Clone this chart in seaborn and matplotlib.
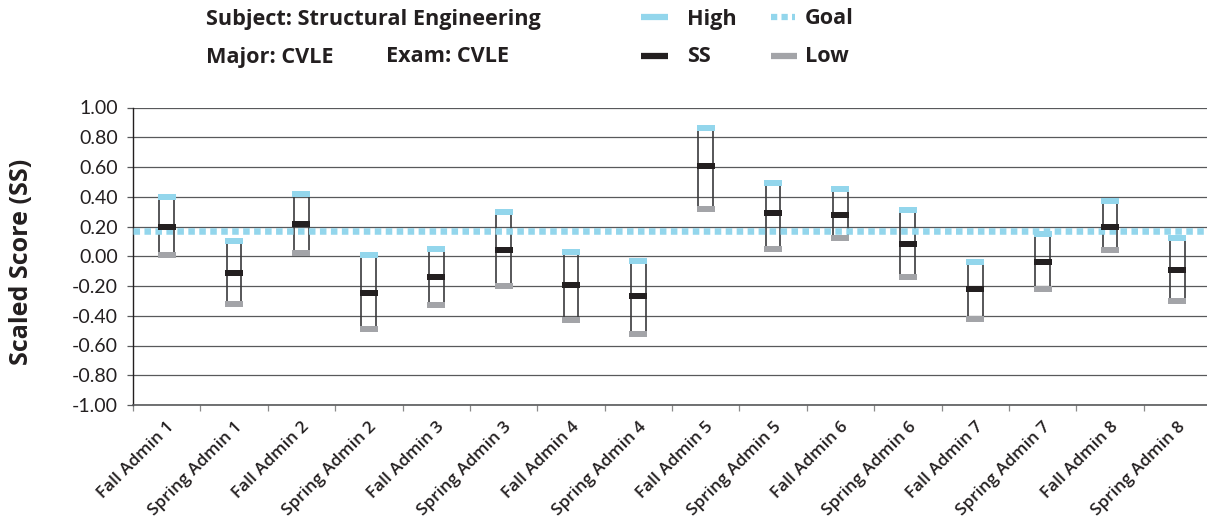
import matplotlib
matplotlib.use("Agg")
import matplotlib.pyplot as plt
from matplotlib.path import Path
from matplotlib.lines import Line2D
import pandas as pd
import seaborn as sns

# Administration windows along the x axis
admins = [
    "Fall Admin 1", "Spring Admin 1", "Fall Admin 2", "Spring Admin 2",
    "Fall Admin 3", "Spring Admin 3", "Fall Admin 4", "Spring Admin 4",
    "Fall Admin 5", "Spring Admin 5", "Fall Admin 6", "Spring Admin 6",
    "Fall Admin 7", "Spring Admin 7", "Fall Admin 8", "Spring Admin 8",
]
# Scaled scores per administration
high = [0.40, 0.10, 0.42, 0.01, 0.05, 0.30, 0.03, -0.03,
        0.86, 0.49, 0.45, 0.31, -0.04, 0.15, 0.37, 0.12]
ss = [0.20, -0.11, 0.22, -0.25, -0.14, 0.04, -0.19, -0.27,
      0.61, 0.29, 0.28, 0.08, -0.22, -0.04, 0.20, -0.09]
low = [0.01, -0.32, 0.02, -0.49, -0.33, -0.20, -0.43, -0.52,
       0.32, 0.05, 0.12, -0.14, -0.42, -0.22, 0.04, -0.30]
goal = 0.17
y_ticks = [1.00, 0.80, 0.60, 0.40, 0.20, 0.00, -0.20, -0.40, -0.60, -0.80, -1.00]

subject_text = "Subject: Structural Engineering"
major_text = "Major: CVLE"
exam_text = "Exam: CVLE"

CYAN = "#93D6EC"
BLACK = "#231F20"
GRAY = "#A3A4A8"
GRID = "#58595B"
SIDE = "#3A3A3C"

sns.set_theme(style="white")
plt.rcParams["font.family"] = ["Lato", "DejaVu Sans"]

df = pd.DataFrame({"admin": admins, "high": high, "ss": ss, "low": low})
df["pos"] = range(len(df))

fig = plt.figure(figsize=(12.07, 5.22), dpi=100)
W, H = 1207, 522
ax = fig.add_axes([133 / W, 117 / H, 1078 / W, 297.5 / H])

# horizontal grid at every tick
for v in y_ticks:
    ax.axhline(v, color=GRID, lw=0.9, zorder=1)

# box sides spanning low..high
half = 0.109
ax.vlines(df["pos"] - half, df["low"], df["high"], color=SIDE, lw=1.2, zorder=2)
ax.vlines(df["pos"] + half, df["low"], df["high"], color=SIDE, lw=1.2, zorder=2)

# goal line
ax.axhline(goal, color=CYAN, lw=4.7, dashes=(1.0, 0.68),
           dash_capstyle="butt", zorder=3)

# flat bar marker for high / SS / low
bar = Path([(-1.8, -0.5), (1.8, -0.5), (1.8, 0.5), (-1.8, 0.5), (-1.8, -0.5)],
           [Path.MOVETO, Path.LINETO, Path.LINETO, Path.LINETO, Path.CLOSEPOLY])
msize = 168
for col, color in (("low", GRAY), ("high", CYAN), ("ss", BLACK)):
    sns.scatterplot(data=df, x="pos", y=col, marker=bar, s=msize, color=color,
                    linewidth=0, ax=ax, zorder=4, legend=False)

ax.set_xlim(-0.5, len(admins) - 0.5)
ax.set_ylim(-1.0, 1.0)
ax.set_xlabel("")
ax.set_ylabel("")

ax.set_yticks(y_ticks)
ax.set_yticklabels([f"{v:.2f}" for v in y_ticks], fontsize=14, color="#231F20")
ax.tick_params(axis="y", left=True, length=4, width=0.9, color=GRID, pad=7)

ax.set_xticks(df["pos"])
ax.set_xticklabels(admins, rotation=45, ha="right", rotation_mode="anchor",
                   fontsize=12.3, fontweight="semibold", color="#231F20",
                   fontfamily=["Open Sans", "DejaVu Sans"])
ax.tick_params(axis="x", which="major", length=0, pad=10)
ax.set_xticks([i + 0.5 for i in range(-1, len(admins))], minor=True)
ax.tick_params(axis="x", which="minor", bottom=True, length=4, width=0.9,
               color="#8A8A8A")

for side in ("top", "right"):
    ax.spines[side].set_visible(False)
ax.spines["left"].set_color(BLACK)
ax.spines["left"].set_linewidth(1.0)
ax.spines["bottom"].set_color(GRID)
ax.spines["bottom"].set_linewidth(1.2)

fig.text(22 / W, 1 - 262 / H, "Scaled Score (SS)", rotation=90, ha="center",
         va="center", fontsize=18, fontweight="bold", color=BLACK,
         fontfamily=["Open Sans", "DejaVu Sans"])

# header block
hdr = dict(fontsize=15.6, fontweight="bold", color=BLACK, va="center",
           fontfamily=["Open Sans", "DejaVu Sans"])
fig.text(206 / W, 1 - 19 / H, subject_text, **hdr)
fig.text(206 / W, 1 - 57 / H, major_text, **hdr)
fig.text(386 / W, 1 - 57 / H, exam_text, **hdr)

# legend keys
def key(x0, x1, y, color, **kw):
    fig.add_artist(Line2D([x0 / W, x1 / W], [1 - y / H, 1 - y / H],
                          transform=fig.transFigure, color=color,
                          solid_capstyle="butt", **kw))

key(641, 668, 17, CYAN, lw=4.5)
key(641, 668, 56, BLACK, lw=4.5)
key(771, 797, 56, GRAY, lw=4.5)
key(771, 795, 17, CYAN, lw=4.5, dashes=(1.0, 0.68), dash_capstyle="butt")
fig.text(687 / W, 1 - 19 / H, "High", **hdr)
fig.text(687 / W, 1 - 57 / H, "SS", **hdr)
fig.text(805 / W, 1 - 19 / H, "Goal", **hdr)
fig.text(805 / W, 1 - 57 / H, "Low", **hdr)

fig.savefig("out.png", dpi=100)
